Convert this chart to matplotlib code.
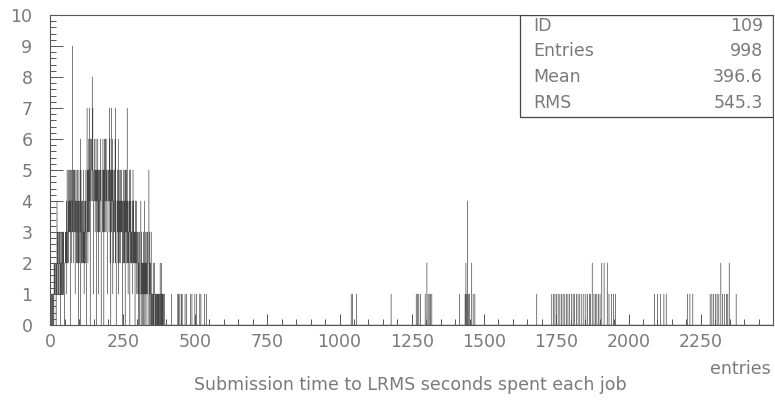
import numpy as np
import matplotlib.pyplot as plt
from matplotlib.ticker import MultipleLocator
from matplotlib.patches import Rectangle

# jobs per 1 s bin for the first 400 s, one digit per bin
dense_counts = (
    "0100101101" "1021212110" "2142312132" "2313021231" "2313132102"
    "2323142523" "3524353405" "3452439354" "2543514352" "3425324053"
    "2436053242" "3425231423" "4253047352" "5364735065" "4565847514"
    "5465354605" "4536415354" "3546304553" "4635053646" "5364531454"
    "4537462504" "7354615243" "5436272034" "4352614524" "3524353402"
    "4253242505" "3425372413" "2435042532" "3243152423" "2304232412"
    "2313021301" "1240312021" "1302140213" "0213123023" "5203120130"
    "1011020101" "2101010110" "1010100102" "0110201010" "0100100000"
)

# sparse tail: bin (s) and number of jobs
tail_times = [418, 440, 443, 447, 452, 455, 465, 470, 484, 489, 499, 505,
              516, 520, 533, 539,
              1040, 1045, 1058, 1178, 1265, 1270, 1274, 1280, 1296, 1302,
              1306, 1310, 1315, 1319, 1415, 1434, 1437, 1440, 1442, 1446,
              1450, 1457, 1462, 1468, 1682,
              1734, 1740, 1745, 1751, 1756, 1762, 1768, 1773, 1779, 1785,
              1790, 1796, 1802, 1808, 1813, 1819, 1825, 1831, 1838, 1845,
              1852, 1858, 1864, 1868, 1874, 1880, 1885, 1890, 1896, 1901,
              1907, 1915, 1926, 1932, 1940, 1947, 1955,
              2090, 2100, 2110, 2122, 2130, 2203, 2212, 2222,
              2282, 2288, 2294, 2300, 2306, 2312, 2319, 2325, 2331, 2338,
              2343, 2348, 2372]
tail_counts = [1] * 16 + \
              [1, 1, 1, 1, 1, 1, 1, 1, 1, 2,
               1, 1, 1, 1, 1, 1, 2, 1, 4, 1,
               1, 2, 1, 1, 1] + \
              [1, 1, 1, 1, 1, 1, 1, 1, 1, 1,
               1, 1, 1, 1, 1, 1, 1, 1, 1, 1,
               1, 1, 1, 1, 2, 1, 1, 1, 1, 1,
               2, 2, 2, 1, 1, 1, 1] + \
              [1, 1, 1, 1, 1, 1, 1, 1,
               1, 1, 1, 1, 1, 1, 2, 1, 1, 1,
               1, 2, 1]

stat_names = ["ID", "Entries", "Mean", "RMS"]
stat_values = ["109", "998", "396.6", "545.3"]

nbins = 2500
edges = np.arange(nbins + 1)
counts = np.zeros(nbins)
counts[:len(dense_counts)] = [int(c) for c in dense_counts]
for t, n in zip(tail_times, tail_counts):
    counts[t] += n

txt = '#7a7a7a'
plt.rcParams['font.family'] = ['DejaVu Sans']

W, H = 775, 400
fig = plt.figure(figsize=(W / 100, H / 100), dpi=100)
ax = fig.add_axes([50.5 / W, 75 / H, 722.5 / W, 310 / H])

ax.stairs(counts, edges, color='#444444', lw=0.25)

ax.set_xlim(0, 2500)
ax.set_ylim(0, 10)
ax.set_xticks(np.arange(0, 2500, 250))
ax.xaxis.set_minor_locator(MultipleLocator(50))
ax.yaxis.set_major_locator(MultipleLocator(1))
ax.yaxis.set_minor_locator(MultipleLocator(0.2))
ax.tick_params(which='both', direction='in', colors='#555555',
               labelcolor=txt, labelsize=12.5, width=0.7)
ax.tick_params(axis='x', which='major', length=8, pad=6)
ax.tick_params(axis='x', which='minor', length=4)
ax.tick_params(axis='y', which='major', length=9, pad=13)
ax.tick_params(axis='y', which='minor', length=4.5)
for s in ax.spines.values():
    s.set_color('#555555')
    s.set_linewidth(0.8)

# statistics box in the top right corner
x0 = (520 - 50.5) / 722.5
y0 = (325 - 117) / 310
ax.add_patch(Rectangle((x0, y0), 1 - x0, 1 - y0, transform=ax.transAxes,
                       fill=False, ec='#444444', lw=0.9, zorder=5))
for i, (name, val) in enumerate(zip(stat_names, stat_values)):
    yy = 1 - (26 + i * 25.5) / H
    fig.text(533 / W, yy, name, ha='left', va='center', color=txt, fontsize=12.5)
    fig.text(763 / W, yy, val, ha='right', va='center', color=txt, fontsize=12.5)

fig.text(410 / W, 1 - 385 / H, 'Submission time to LRMS seconds spent each job',
         ha='center', va='center', color=txt, fontsize=12.5)
fig.text(771 / W, 1 - 369 / H, 'entries', ha='right', va='center',
         color=txt, fontsize=12.5)

fig.savefig('out.png', dpi=100)
